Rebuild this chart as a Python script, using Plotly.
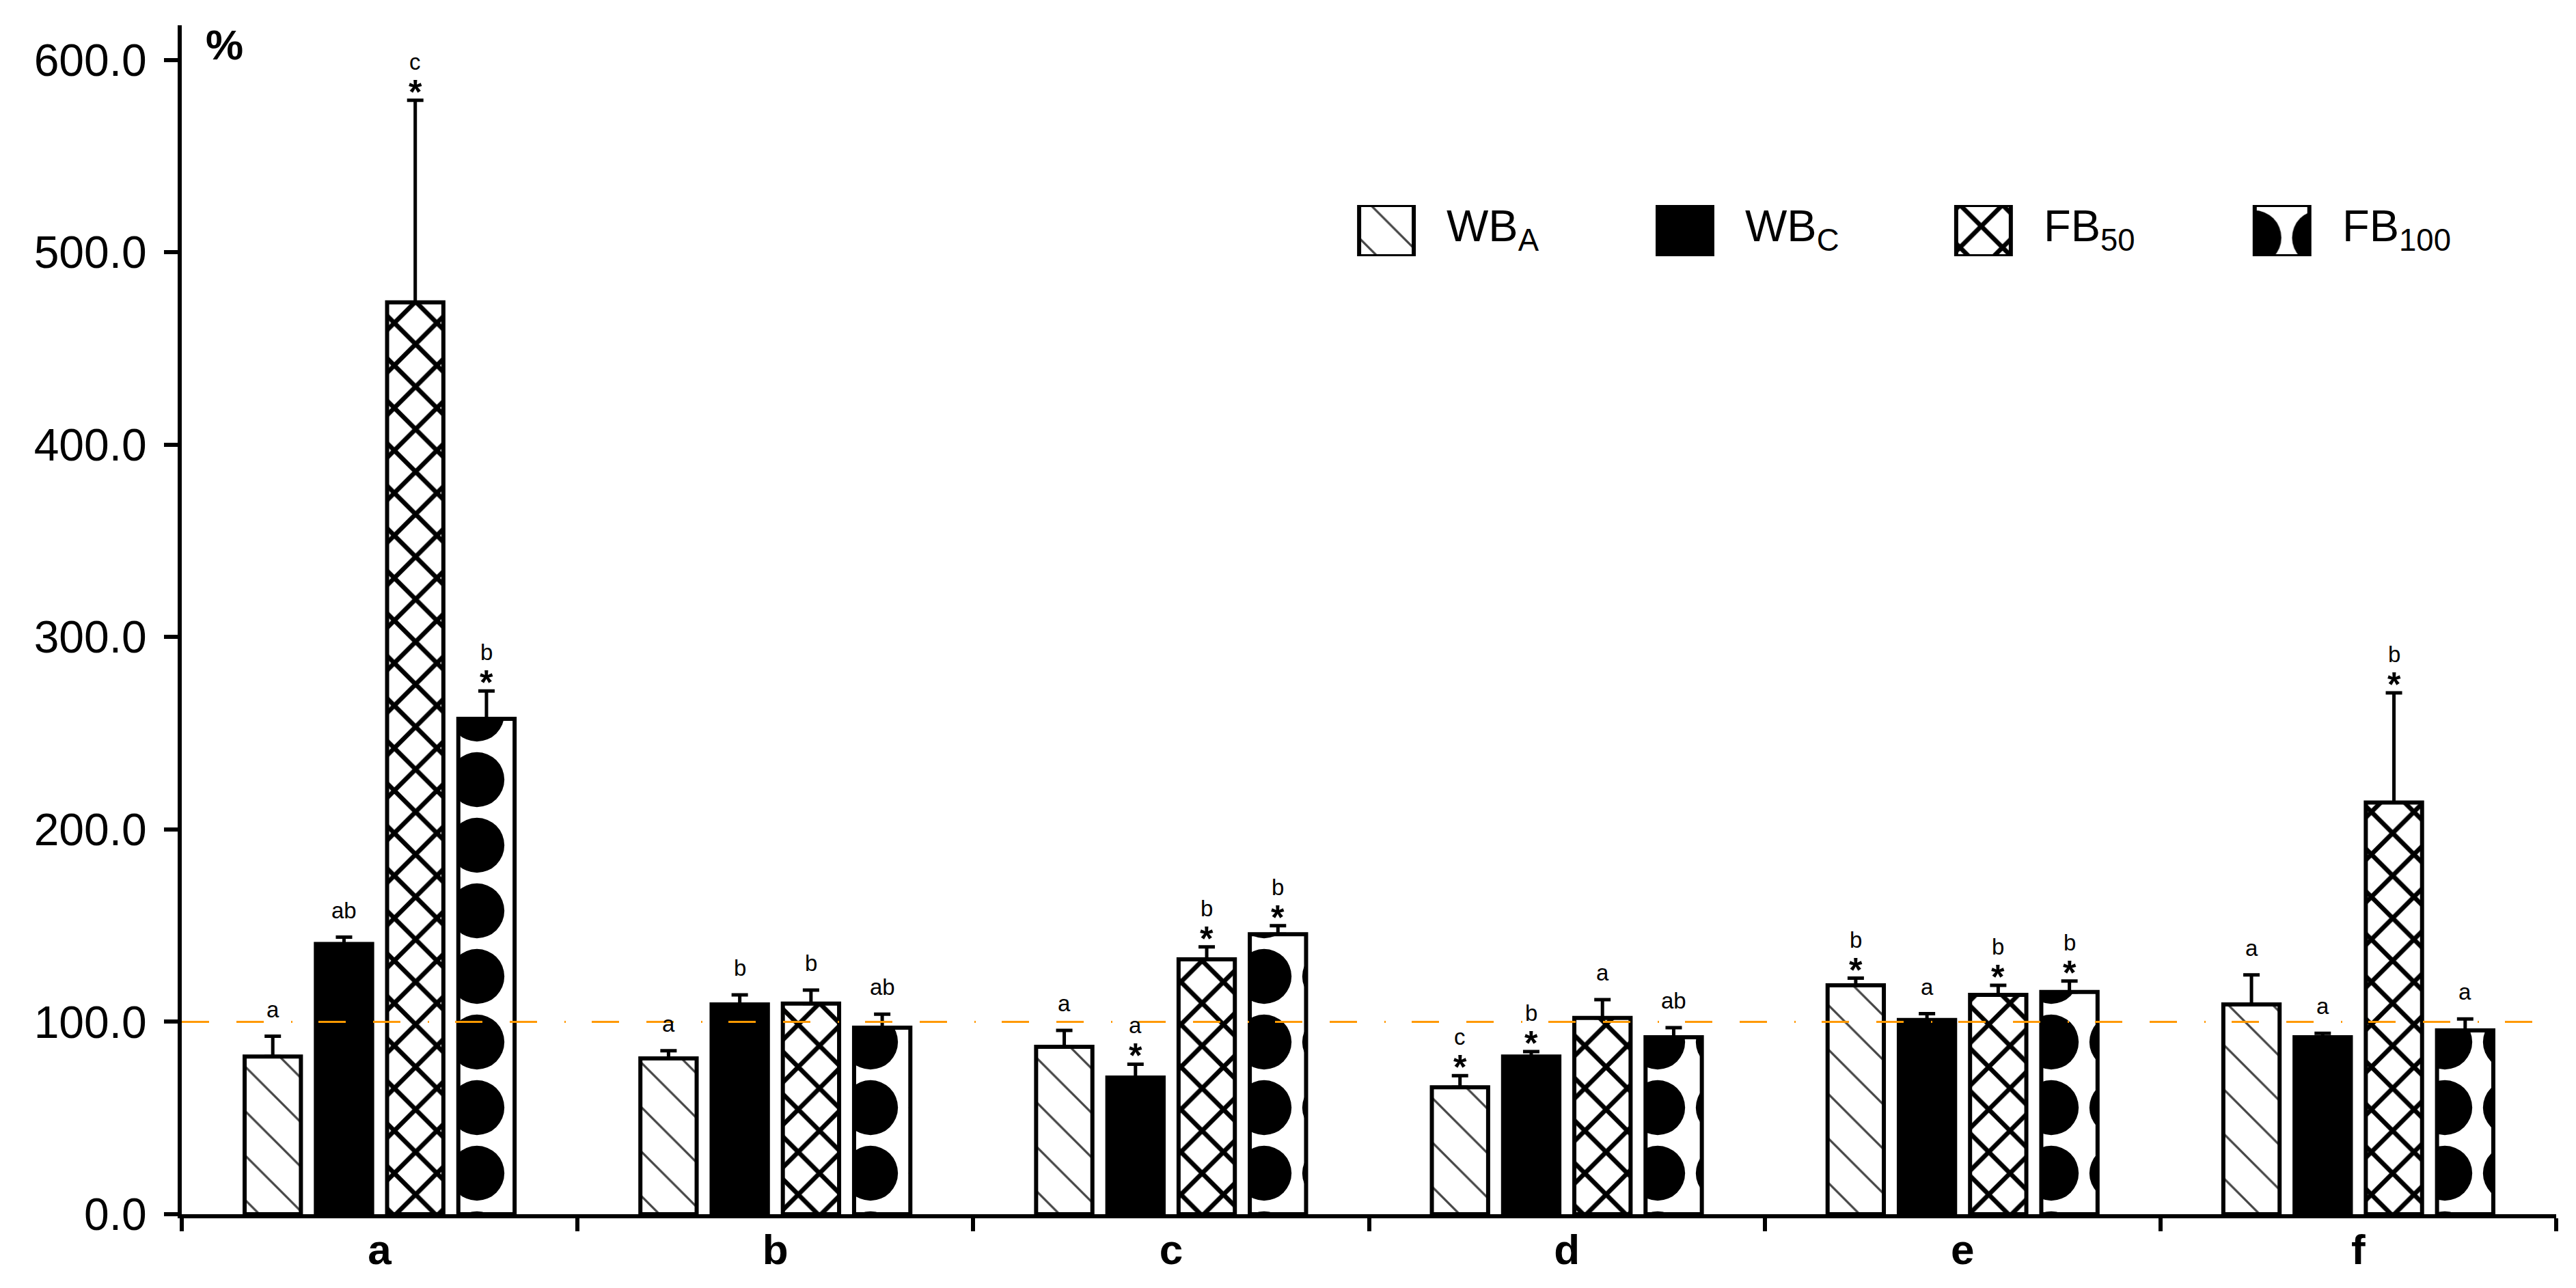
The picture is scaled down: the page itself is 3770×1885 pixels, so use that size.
import plotly.graph_objects as go

# ───────────────────────── DATA ─────────────────────────

groups = ["a", "b", "c", "d", "e", "f"]
series = ["WB_A", "WB_C", "FB50", "FB100"]
legend_text = ["WB<sub>A</sub>", "WB<sub>C</sub>", "FB<sub>50</sub>", "FB<sub>100</sub>"]

wb_a = [82.0, 81.0, 87.0, 66.0, 119.0, 109.0]
wb_a_err = [10.5, 4.0, 8.5, 6.0, 3.7, 15.4]
wb_c = [140.5, 109.0, 71.0, 82.0, 101.0, 92.0]
wb_c_err = [3.5, 5.0, 7.0, 2.5, 3.2, 2.0]
fb50 = [474.0, 109.5, 132.5, 102.0, 114.0, 214.0]
fb50_err = [105.0, 7.0, 6.5, 9.5, 5.0, 57.0]
fb100 = [257.5, 97.0, 145.5, 92.0, 115.5, 95.5]
fb100_err = [14.5, 7.0, 4.5, 5.0, 5.7, 6.0]

letters_wb_a = ["a", "a", "a", "c", "b", "a"]
letters_wb_c = ["ab", "b", "a", "b", "a", "a"]
letters_fb50 = ["c", "b", "b", "a", "b", "b"]
letters_fb100 = ["b", "ab", "b", "ab", "b", "a"]

stars_wb_a = [0, 0, 0, 1, 1, 0]
stars_wb_c = [0, 0, 1, 1, 0, 0]
stars_fb50 = [1, 0, 1, 0, 1, 1]
stars_fb100 = [1, 0, 1, 0, 1, 0]

y_ticks = [0, 100, 200, 300, 400, 500, 600]
reference_level = 100

# ───────────────────────── STYLE ─────────────────────────

FONT = "Liberation Sans, Arial, sans-serif"
BARGAP = 0.28
ORANGE = "#FF9900"

patterns = [
    dict(shape="\\", fgcolor="#444444", bgcolor="white", size=46, solidity=0.07, fillmode="replace"),
    dict(shape="", fgcolor="black", bgcolor="black", fillmode="replace"),
    dict(shape="x", fgcolor="black", bgcolor="white", size=44, solidity=0.28, fillmode="replace"),
    dict(shape=".", fgcolor="black", bgcolor="white", size=96, solidity=0.55, fillmode="replace"),
]
fill_colors = ["white", "black", "white", "white"]

values = [wb_a, wb_c, fb50, fb100]
errors = [wb_a_err, wb_c_err, fb50_err, fb100_err]
letters = [letters_wb_a, letters_wb_c, letters_fb50, letters_fb100]
stars = [stars_wb_a, stars_wb_c, stars_fb50, stars_fb100]

fig = go.Figure()

for i, name in enumerate(series):
    fig.add_trace(go.Bar(
        x=groups,
        y=values[i],
        name=name,
        marker=dict(
            color=fill_colors[i],
            line=dict(color="black", width=6),
            pattern=patterns[i]
        ),
        error_y=dict(
            type="data",
            array=errors[i],
            arrayminus=[0] * len(groups),
            symmetric=False,
            color="black",
            thickness=5,
            width=12
        ),
        showlegend=False
    ))

# significance letters and asterisks
slot = (1 - BARGAP) / len(series)
annotations = []
for i in range(len(series)):
    for g in range(len(groups)):
        top = values[i][g] + errors[i][g]
        xpos = g + (i - 1.5) * slot
        if stars[i][g]:
            annotations.append(dict(
                x=xpos, y=top, xref="x", yref="y",
                text="<b>*</b>", showarrow=False,
                yanchor="bottom", yshift=-18,
                font=dict(family=FONT, size=50, color="black")
            ))
            shift = 36
        else:
            shift = 19
        annotations.append(dict(
            x=xpos, y=top, xref="x", yref="y",
            text=letters[i][g], showarrow=False,
            yanchor="bottom", yshift=shift,
            font=dict(family=FONT, size=33, color="black")
        ))

# "%" unit label
annotations.append(dict(
    x=0.0095, y=1.0, xref="paper", yref="paper",
    text="<b>%</b>", showarrow=False,
    xanchor="left", yanchor="top", yshift=8,
    font=dict(family=FONT, size=62, color="black")
))

# legend swatches drawn as bars on a small overlay axis
for i, name in enumerate(series):
    fig.add_trace(go.Bar(
        x=[i],
        y=[1],
        xaxis="x2", yaxis="y2",
        width=0.183,
        offset=-0.0915,
        marker=dict(
            color=fill_colors[i],
            line=dict(color="black", width=6),
            pattern=patterns[i]
        ),
        hoverinfo="skip",
        showlegend=False
    ))
    annotations.append(dict(
        x=i, y=0.5, xref="x2", yref="y2",
        text=legend_text[i], showarrow=False,
        xanchor="left", yanchor="middle", xshift=86, yshift=2,
        font=dict(family=FONT, size=65, color="black")
    ))

fig.add_shape(
    type="line", xref="paper", yref="y",
    x0=0, x1=1, y0=reference_level, y1=reference_level,
    line=dict(color=ORANGE, width=3, dash="40px,40px,40px,40px,2px,38px"),
    layer="above"
)

fig.update_layout(
    width=3770,
    height=1885,
    paper_bgcolor="white",
    plot_bgcolor="white",
    barmode="group",
    bargap=BARGAP,
    bargroupgap=0.21,
    margin=dict(l=258, r=37, t=29, b=116),
    font=dict(family=FONT, color="black"),
    annotations=annotations,
    xaxis=dict(
        type="category",
        range=[-0.5, 5.5],
        showline=True, linecolor="black", linewidth=6,
        ticks="outside", tickson="boundaries", ticklen=19, tickwidth=6, tickcolor="black",
        tickfont=dict(family=FONT, size=62, color="black", weight="bold"),
        ticklabelstandoff=-7,
        showgrid=False, zeroline=False
    ),
    yaxis=dict(
        range=[0, 618],
        tickvals=y_ticks,
        tickformat=".1f",
        showline=True, linecolor="black", linewidth=6,
        ticks="outside", ticklen=20, tickwidth=6, tickcolor="black",
        tickfont=dict(family=FONT, size=66, color="black"),
        ticklabelstandoff=12,
        showgrid=False, zeroline=False
    ),
    xaxis2=dict(
        domain=[0.4445, 0.9474], range=[-0.5, 3.5],
        anchor="y2", visible=False, fixedrange=True
    ),
    yaxis2=dict(
        domain=[0.8057, 0.8489], range=[0, 1],
        anchor="x2", visible=False, fixedrange=True
    )
)

fig.write_html("out.html")
